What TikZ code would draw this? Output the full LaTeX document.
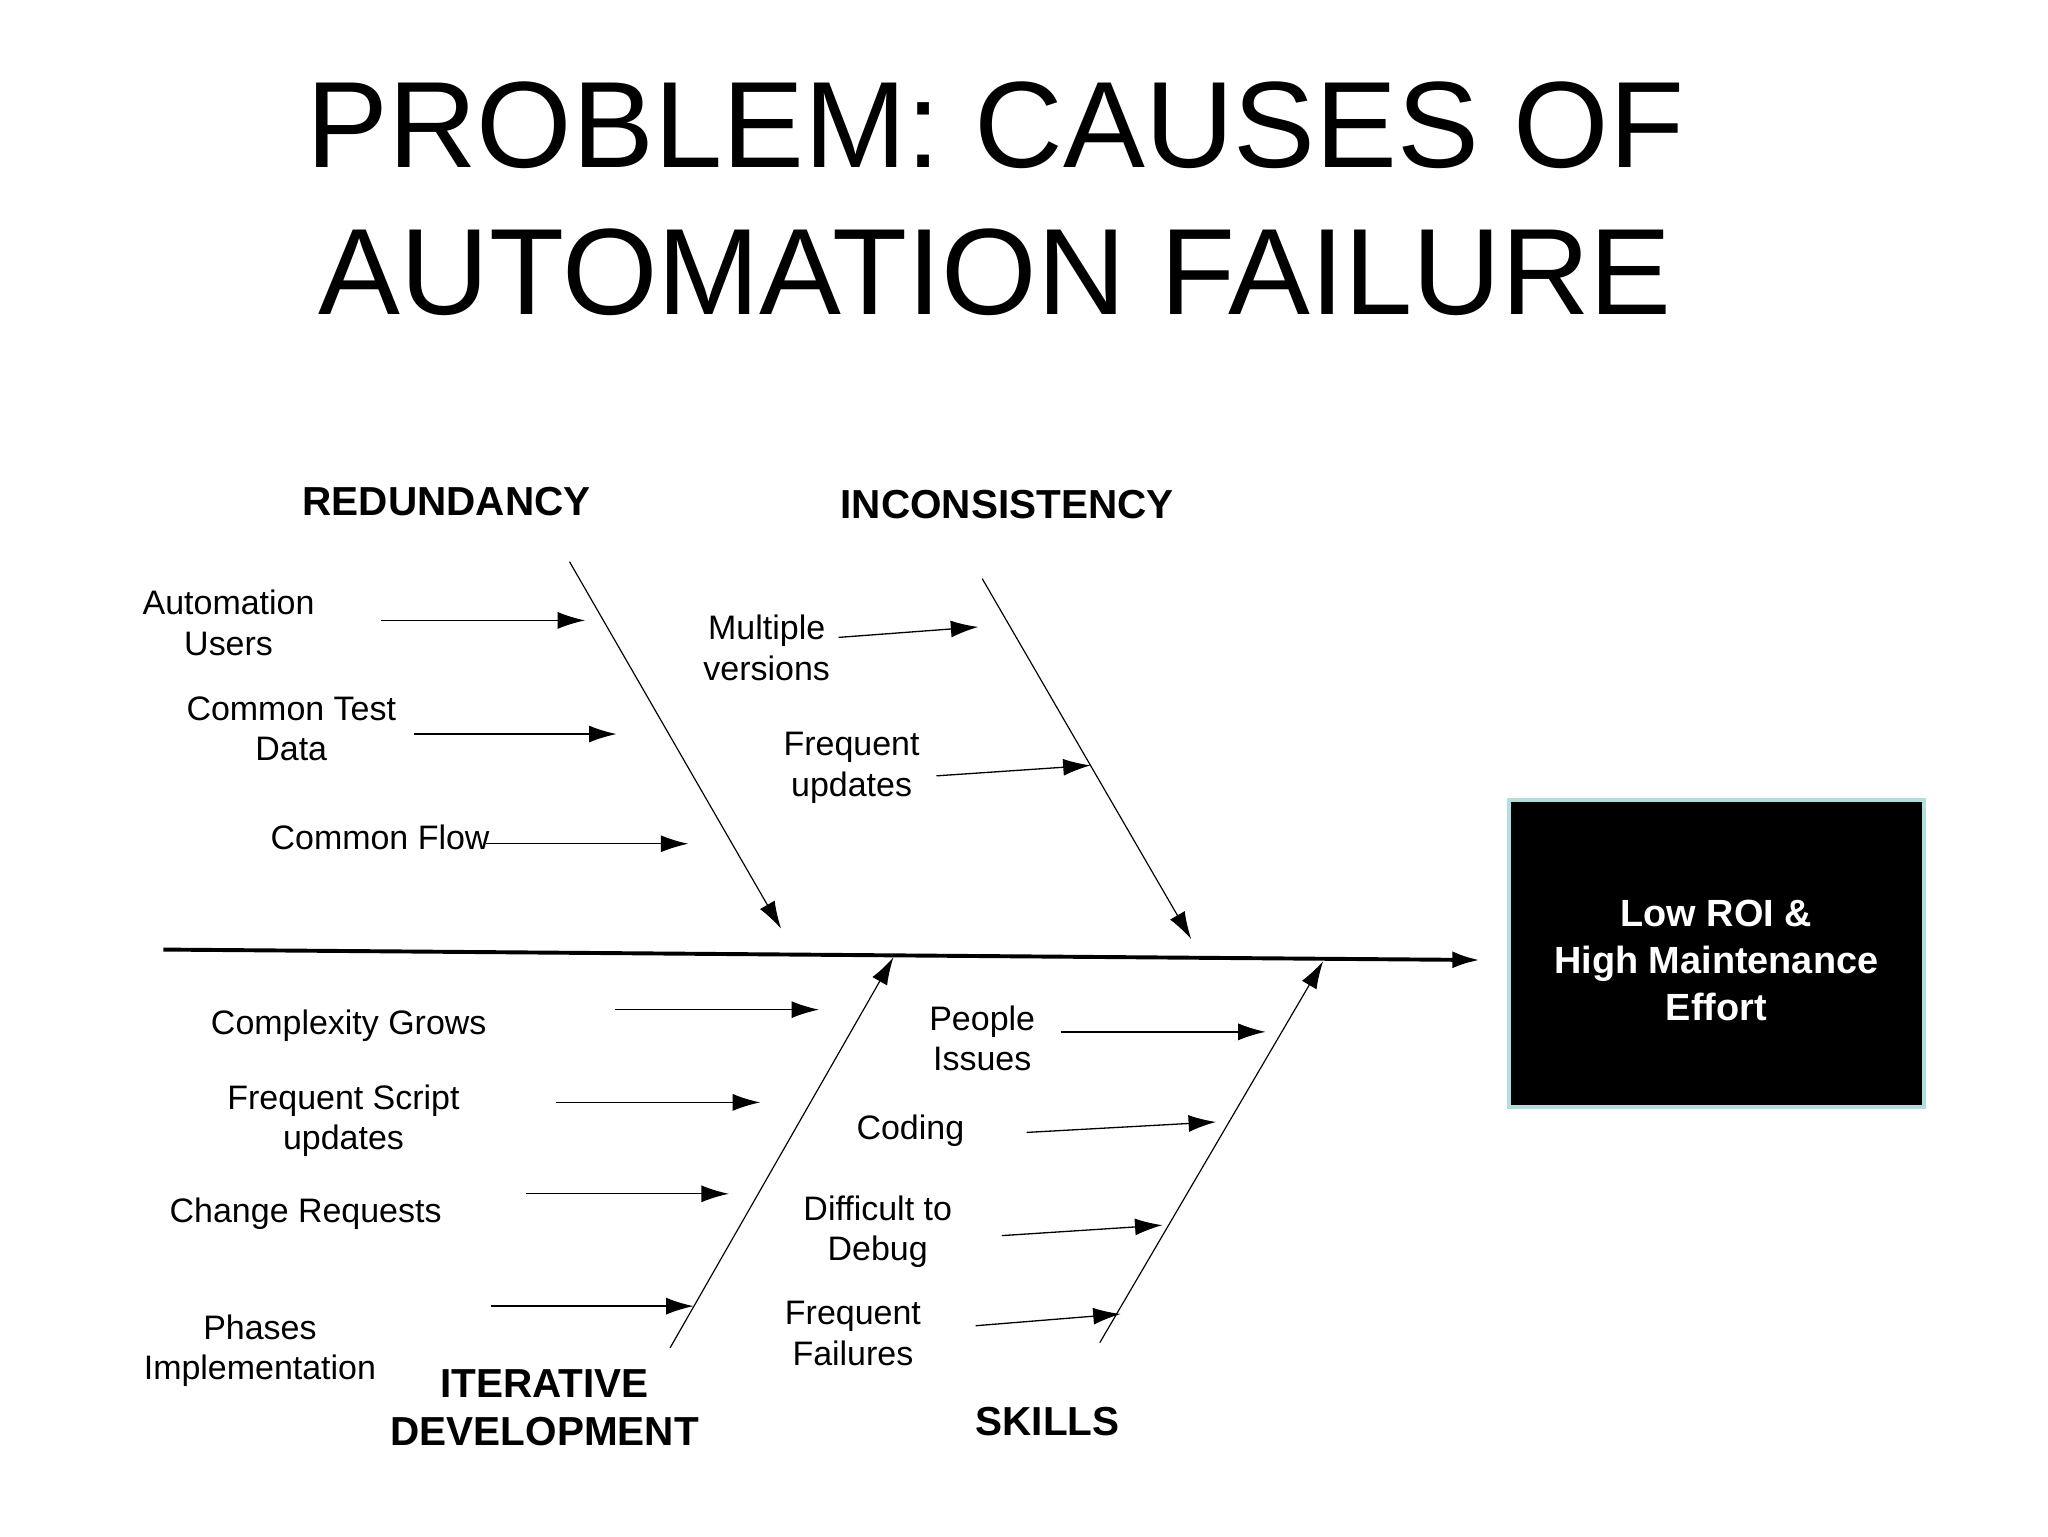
\documentclass[tikz,border=0pt]{standalone}
\usepackage{fontspec}
\setmainfont{Liberation Sans}
\usepackage{xcolor}
\usetikzlibrary{arrows.meta}
\definecolor{boxedge}{HTML}{B2DEDE}

\begin{document}
\begin{tikzpicture}[x=1pt, y=-1pt,
        cause/.style={align=center, font=\fontsize{26}{31}\selectfont},
        category/.style={align=center, font=\bfseries\fontsize{31}{37}\selectfont},
        bone/.style={-{Latex[length=21pt, width=13pt]}, line width=0.9pt},
        twig/.style={-{Latex[length=21pt, width=13pt]}, line width=1pt}]
        \useasboundingbox (0,0) rectangle (1568,1176);

        \node[align=center, font=\fontsize{94}{113}\selectfont](title) at (762,152) {PROBLEM: CAUSES OF\\AUTOMATION FAILURE};

        % effect
        \node[draw=boxedge, line width=3pt, fill=black, text=white, align=center, minimum width=318pt, minimum height=235pt, font=\bfseries\fontsize{29}{36}\selectfont](effect) at (1314,730) {\rule{0pt}{31pt}Low ROI \&\\High Maintenance\\Effort};

        % spine
        \coordinate (tail) at (125,727);
        \coordinate (head) at (1133,735);
        \draw[line width=3pt, -{Latex[length=21pt, width=13pt]}] (tail) -- (head);

        % categories
        \node[category](redundancy) at (342,384) {REDUNDANCY};
        \node[category](inconsistency) at (771,386) {INCONSISTENCY};
        \node[category](iterative) at (417,1078) {ITERATIVE\\DEVELOPMENT};
        \node[category](skills) at (802,1088) {SKILLS};

        % bones
        \coordinate (red-a) at (436,430);
        \coordinate (red-b) at (598,711);
        \coordinate (inc-a) at (752,443);
        \coordinate (inc-b) at (912,719);
        \coordinate (ite-a) at (513,1032);
        \coordinate (ite-b) at (684,733);
        \coordinate (ski-a) at (842,1028);
        \coordinate (ski-b) at (1013,736);
        \draw[bone] (red-a) -- (red-b);
        \draw[bone] (inc-a) -- (inc-b);
        \draw[bone] (ite-a) -- (ite-b);
        \draw[bone] (ski-a) -- (ski-b);

        % causes
        \node[cause](users) at (175,477) {Automation\\Users};
        \node[cause](testdata) at (223,558) {Common Test\\Data};
        \node[cause](flow) at (291,641) {Common Flow};
        \node[cause](versions) at (587,496) {Multiple\\versions};
        \node[cause](updates) at (652,588) {Frequent\\updates};
        \node[cause](complexity) at (267,785) {Complexity Grows};
        \node[cause](script) at (263,858) {Frequent Script\\updates};
        \node[cause](requests) at (234,929) {Change Requests};
        \node[cause](phases) at (199,1034) {Phases\\Implementation};
        \node[cause](people) at (752,795) {People\\Issues};
        \node[cause](coding) at (697,866) {Coding};
        \node[cause](debug) at (672,943) {Difficult to\\Debug};
        \node[cause](failures) at (653,1021) {Frequent\\Failures};

        % twigs
        \coordinate (users-s) at (292,475);      \coordinate (users-e) at (448,475);
        \coordinate (testdata-s) at (317,562);   \coordinate (testdata-e) at (472,562);
        \coordinate (flow-s) at (372,646);       \coordinate (flow-e) at (527,646);
        \coordinate (versions-s) at (642,488);   \coordinate (versions-e) at (749,480);
        \coordinate (updates-s) at (717,594);    \coordinate (updates-e) at (835,586);
        \coordinate (complexity-s) at (471,773); \coordinate (complexity-e) at (627,773);
        \coordinate (script-s) at (426,844);     \coordinate (script-e) at (582,844);
        \coordinate (requests-s) at (403,914);   \coordinate (requests-e) at (558,914);
        \coordinate (phases-s) at (376,1000);    \coordinate (phases-e) at (531,1000);
        \coordinate (people-s) at (812,790);     \coordinate (people-e) at (969,790);
        \coordinate (coding-s) at (786,867);     \coordinate (coding-e) at (931,859);
        \coordinate (debug-s) at (767,946);      \coordinate (debug-e) at (890,938);
        \coordinate (failures-s) at (747,1015);  \coordinate (failures-e) at (858,1006);
        \draw[twig] (users-s) -- (users-e);
        \draw[twig] (testdata-s) -- (testdata-e);
        \draw[twig] (flow-s) -- (flow-e);
        \draw[twig] (versions-s) -- (versions-e);
        \draw[twig] (updates-s) -- (updates-e);
        \draw[twig] (complexity-s) -- (complexity-e);
        \draw[twig] (script-s) -- (script-e);
        \draw[twig] (requests-s) -- (requests-e);
        \draw[twig] (phases-s) -- (phases-e);
        \draw[twig] (people-s) -- (people-e);
        \draw[twig] (coding-s) -- (coding-e);
        \draw[twig] (debug-s) -- (debug-e);
        \draw[twig] (failures-s) -- (failures-e);
    \end{tikzpicture}
\end{document}
